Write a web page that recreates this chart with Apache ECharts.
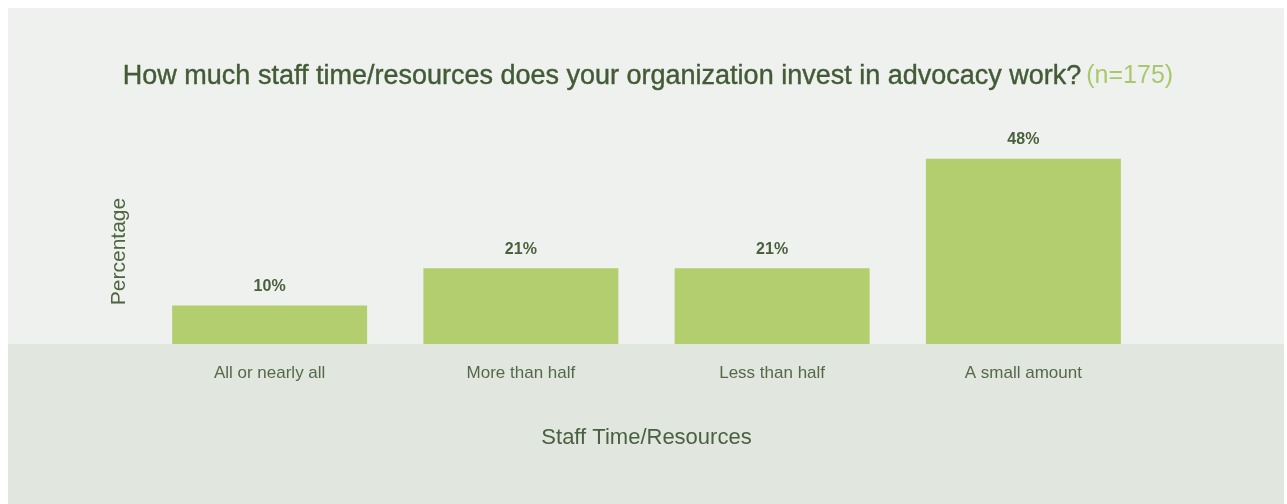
<!DOCTYPE html>
<html>
<head>
<meta charset="utf-8">
<script src="https://cdn.jsdelivr.net/npm/echarts@6/dist/echarts.min.js"></script>
<style>
  html, body { margin: 0; padding: 0; background: #ffffff; }
  #chart { width: 1287px; height: 504px; }
</style>
</head>
<body>
<div id="chart"></div>
<script>
// Data
const categories = ['All or nearly all', 'More than half', 'Less than half', 'A small amount'];
const values = [10, 19.6, 19.6, 48];           // bar heights as drawn
const valueLabels = ['10%', '21%', '21%', '48%']; // labels as printed
const titleMain = 'How much staff time/resources does your organization invest in advocacy work?';
const titleNote = '(n=175)';
const xAxisName = 'Staff Time/Resources';
const yAxisName = 'Percentage';

const chart = echarts.init(document.getElementById('chart'), null, { renderer: 'canvas' });
const FONT = '"Liberation Sans", Arial, Helvetica, sans-serif';

chart.setOption({
  backgroundColor: '#ffffff',
  animation: false,
  graphic: [
    { type: 'rect', z: -10, shape: { x: 8, y: 8, width: 1276, height: 336 }, style: { fill: '#eff1ee' }, silent: true },
    { type: 'rect', z: -10, shape: { x: 8, y: 344, width: 1276, height: 160 }, style: { fill: '#e1e6df' }, silent: true }
  ],
  title: {
    text: '{a|' + titleMain + '} {b|' + titleNote + '}',
    left: 643,
    textAlign: 'center',
    top: 58,
    textStyle: {
      rich: {
        a: { fontFamily: FONT, fontSize: 27, color: '#435a36', fontWeight: 'normal', textBorderColor: '#435a36', textBorderWidth: 0.4 },
        b: { fontFamily: FONT, fontSize: 25, color: '#a9c86e', fontWeight: 'normal' }
      }
    }
  },
  grid: { left: 144, right: 138, top: 151, bottom: 160, containLabel: false },
  xAxis: {
    type: 'category',
    data: categories,
    name: xAxisName,
    nameLocation: 'middle',
    nameGap: 83,
    nameTextStyle: { fontFamily: FONT, fontSize: 22, color: '#4a6040' },
    axisLine: { show: false },
    axisTick: { show: false },
    axisLabel: { fontFamily: FONT, fontSize: 17, color: '#55694a', margin: 21 }
  },
  yAxis: {
    type: 'value',
    min: 0,
    max: 50,
    name: yAxisName,
    nameLocation: 'middle',
    nameGap: 14,
    nameTextStyle: { fontFamily: FONT, fontSize: 21, color: '#4d6640', padding: [0, 8, 0, 0] },
    axisLine: { show: false },
    axisTick: { show: false },
    axisLabel: { show: false },
    splitLine: { show: false }
  },
  series: [{
    type: 'bar',
    data: values,
    barCategoryGap: '22.4%',
    itemStyle: { color: '#b3ce6e' },
    label: {
      show: true,
      position: 'top',
      distance: 11,
      fontFamily: FONT,
      fontSize: 16,
      fontWeight: 'bold',
      color: '#4a5f3c',
      formatter: p => valueLabels[p.dataIndex]
    }
  }]
});
</script>
</body>
</html>
